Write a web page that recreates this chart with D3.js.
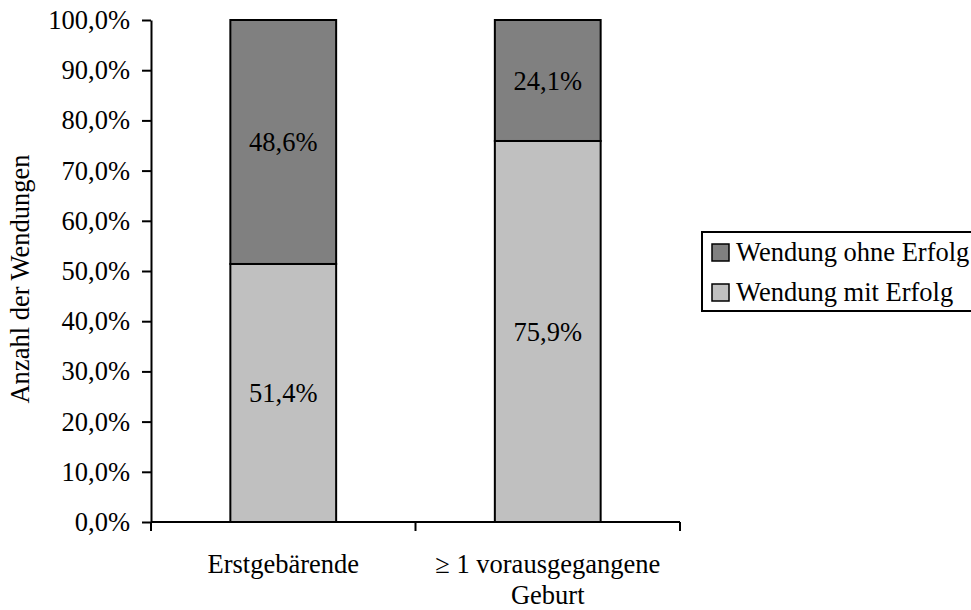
<!DOCTYPE html>
<html>
<head>
<meta charset="utf-8">
<script src="https://cdn.jsdelivr.net/npm/d3@7"></script>
<style>
    body { margin: 0; background: #fff; }
    text { font-family: "Liberation Serif", "Times New Roman", serif; font-size: 26.5px; fill: #000; }
</style>
</head>
<body>
<div id="chart"></div>
<script>
// chart values
const categories = ["Erstgebärende", "≥ 1 vorausgegangene Geburt"];
const categoryLines = [["Erstgebärende"], ["≥ 1 vorausgegangene", "Geburt"]];
const seriesKeys = ["mit", "ohne"];
const seriesNames = {mit: "Wendung mit Erfolg", ohne: "Wendung ohne Erfolg"};
const seriesColors = {mit: "#c0c0c0", ohne: "#808080"};
const mitErfolg = [0.514, 0.759];
const ohneErfolg = [0.486, 0.241];
const yTicks = [0, 0.1, 0.2, 0.3, 0.4, 0.5, 0.6, 0.7, 0.8, 0.9, 1.0];
const yLabel = "Anzahl der Wendungen";

const table = categories.map((c, i) => ({cat: c, mit: mitErfolg[i], ohne: ohneErfolg[i]}));

const de = d3.formatLocale({decimal: ",", thousands: ".", grouping: [3], currency: ["", " €"]});
const pct = de.format(".1%");

let margin = {top: 20, left: 151, width: 529, height: 502};

let svg = d3.select("#chart").append("svg")
    .attr("width", 971)
    .attr("height", 610);

let g = svg.append("g")
    .attr("transform", `translate(${margin.left}, ${margin.top})`);

let x = d3.scaleBand()
    .domain(categories)
    .range([0, margin.width])
    .paddingInner(0.6)
    .paddingOuter(0.3);

// band scale without padding for tick marks between categories
let xCat = d3.scaleBand()
    .domain(categories)
    .range([0, margin.width]);

let y = d3.scaleLinear()
    .domain([0, 1])
    .range([margin.height, 0]);

let stacked = d3.stack().keys(seriesKeys)(table);

// bars
let layers = g.selectAll(".layer")
    .data(stacked)
    .enter()
    .append("g")
    .attr("class", "layer")
    .attr("fill", d => seriesColors[d.key]);

layers.selectAll("rect")
    .data(d => d)
    .enter()
    .append("rect")
    .attr("x", d => x(d.data.cat))
    .attr("y", d => y(d[1]))
    .attr("width", x.bandwidth())
    .attr("height", d => y(d[0]) - y(d[1]))
    .attr("stroke", "#000")
    .attr("stroke-width", 2);

// data labels
layers.selectAll(".val")
    .data(d => d.map(v => ({v: v, key: d.key})))
    .enter()
    .append("text")
    .attr("class", "val")
    .attr("x", d => x(d.v.data.cat) + x.bandwidth() / 2)
    .attr("y", d => (y(d.v[0]) + y(d.v[1])) / 2)
    .attr("dy", "0.35em")
    .attr("text-anchor", "middle")
    .text(d => pct(d.v.data[d.key]));

// y axis
let yAxis = d3.axisLeft(y)
    .tickValues(yTicks)
    .tickFormat(pct)
    .tickSizeInner(9)
    .tickSizeOuter(0)
    .tickPadding(12);

let yAxisGroup = g.append("g").attr("class", "axis y-axis").call(yAxis);
yAxisGroup.select(".domain").attr("stroke-width", 2);
yAxisGroup.selectAll(".tick line").attr("stroke-width", 2);
yAxisGroup.selectAll("text").attr("font-size", null).attr("font-family", null);

// x axis
let xAxisGroup = g.append("g").attr("class", "axis x-axis")
    .attr("transform", `translate(0, ${margin.height})`);

xAxisGroup.append("path")
    .attr("d", `M0,0H${margin.width}`)
    .attr("stroke", "#000")
    .attr("stroke-width", 2);

let xTickPos = categories.map(c => xCat(c)).concat([margin.width]);
xAxisGroup.selectAll(".xtick")
    .data(xTickPos)
    .enter()
    .append("line")
    .attr("class", "xtick")
    .attr("x1", d => d).attr("x2", d => d)
    .attr("y1", 0).attr("y2", 9)
    .attr("stroke", "#000")
    .attr("stroke-width", 2);

let xLabels = xAxisGroup.selectAll(".xlabel")
    .data(categories)
    .enter()
    .append("text")
    .attr("class", "xlabel")
    .attr("text-anchor", "middle")
    .attr("transform", d => `translate(${x(d) + x.bandwidth() / 2}, 51)`);

xLabels.selectAll("tspan")
    .data((d, i) => categoryLines[i])
    .enter()
    .append("tspan")
    .attr("x", 0)
    .attr("y", (d, i) => i * 31)
    .text(d => d);

// y label
g.append("text")
    .attr("transform", `translate(-122, ${margin.height / 2 + 8}) rotate(-90)`)
    .attr("text-anchor", "middle")
    .text(yLabel);

// legend
let legend = svg.append("g")
    .attr("transform", "translate(702, 232)");

legend.append("rect")
    .attr("x", 0).attr("y", 0)
    .attr("width", 300).attr("height", 79)
    .attr("fill", "#fff")
    .attr("stroke", "#000")
    .attr("stroke-width", 2);

let legendKeys = ["ohne", "mit"];
let items = legend.selectAll(".item")
    .data(legendKeys)
    .enter()
    .append("g")
    .attr("class", "item")
    .attr("transform", (d, i) => `translate(10, ${20 + i * 40})`);

items.append("rect")
    .attr("x", 0).attr("y", -8)
    .attr("width", 17).attr("height", 17)
    .attr("fill", d => seriesColors[d])
    .attr("stroke", "#000")
    .attr("stroke-width", 1.5);

items.append("text")
    .attr("x", 24)
    .attr("y", 0)
    .attr("dy", "0.35em")
    .text(d => seriesNames[d]);
</script>
</body>
</html>
